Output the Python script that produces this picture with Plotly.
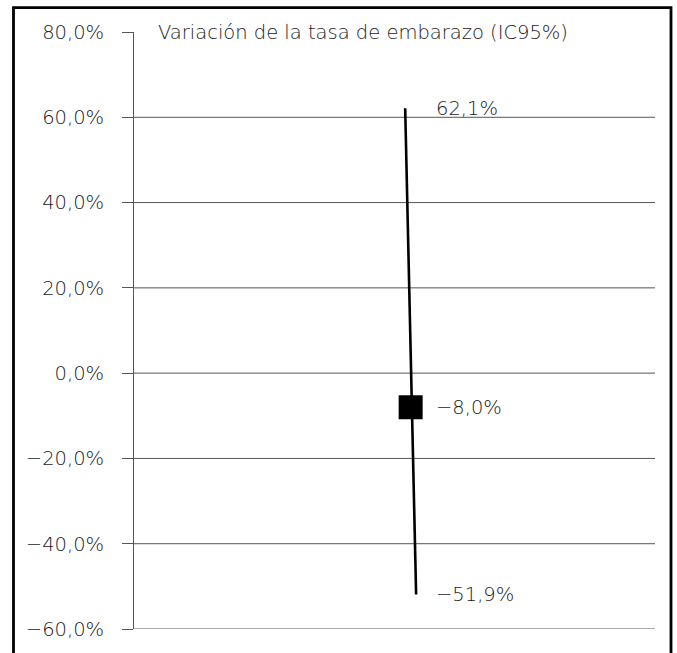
import plotly.graph_objects as go

# Pregnancy-rate variation with its 95% confidence interval (percent)
estimate = [-8.0]
ci_high = [62.1]
ci_low = [-51.9]
y_ticks = [-60, -40, -20, 0, 20, 40, 60, 80]
title_text = "Variación de la tasa de embarazo (IC95%)"

FONT = "'DejaVu Sans', sans-serif"
TXT = "#1a1a1a"
WEIGHT = 200

# horizontal placement of the interval inside the (hidden) x axis
x_center = 0.531
skew = 0.0105  # slight lean of the drawn interval line

fig = go.Figure()

# interval line from upper to lower bound
fig.add_trace(go.Scatter(
    x=[x_center - skew, x_center + skew],
    y=[ci_high[0], ci_low[0]],
    mode="lines",
    line=dict(color="black", width=2.6),
    hoverinfo="skip",
    showlegend=False,
))

# point estimate
fig.add_trace(go.Scatter(
    x=[x_center],
    y=estimate,
    mode="markers",
    marker=dict(symbol="square", size=24, color="black"),
    showlegend=False,
))

def fmt(v):
    s = f"{v:.1f}".replace(".", ",")
    return s.replace("-", "\u2212") + "%"

for v in (ci_high[0], estimate[0], ci_low[0]):
    fig.add_annotation(
        x=x_center, y=v, xref="x", yref="y",
        text=fmt(v), showarrow=False,
        xanchor="left", yanchor="middle", xshift=23,
        font=dict(family=FONT, size=19.5, color=TXT, weight=WEIGHT),
    )

fig.add_annotation(
    x=0.043, y=80, xref="paper", yref="y",
    text=title_text, showarrow=False,
    xanchor="left", yanchor="middle",
    font=dict(family=FONT, size=19.5, color=TXT, weight=WEIGHT),
)

# outer frame around the whole chart
W, H = 677, 653
ml, mr, mt, mb = 134, 22, 32, 19
pw, ph = W - ml - mr, H - mt - mb
def px_to_paper_x(px):
    return (px - ml) / pw
def px_to_paper_y(py):
    return 1 - (py - mt) / ph

fig.add_shape(
    type="rect", xref="paper", yref="paper",
    x0=px_to_paper_x(13.5), x1=px_to_paper_x(671),
    y0=px_to_paper_y(H + 10), y1=px_to_paper_y(7.5),
    line=dict(color="black", width=2.8),
    fillcolor="rgba(0,0,0,0)", layer="above",
)

fig.update_layout(
    width=W, height=H,
    margin=dict(l=ml, r=mr, t=mt, b=mb),
    paper_bgcolor="white", plot_bgcolor="white",
    separators=", ",
    font=dict(family=FONT, color=TXT),
    xaxis=dict(
        range=[0, 1], visible=False, showgrid=False, zeroline=False,
    ),
    yaxis=dict(
        range=[-60, 80],
        tickvals=y_ticks,
        ticktext=[fmt(v) for v in y_ticks],
        ticks="outside", ticklen=11, tickwidth=1, tickcolor="#555555",
        showline=True, linecolor="#555555", linewidth=1,
        showgrid=False, zeroline=False,
        tickfont=dict(family=FONT, size=19.5, color=TXT, weight=WEIGHT),
        ticklabelstandoff=14,
    ),
    showlegend=False,
)

# horizontal gridlines (none at the top tick)
for v in y_ticks:
    if v == max(y_ticks):
        continue
    fig.add_shape(
        type="line", xref="paper", yref="y",
        x0=0, x1=1, y0=v, y1=v,
        line=dict(color="#555555", width=1), layer="below",
    )

fig.write_html("out.html")
